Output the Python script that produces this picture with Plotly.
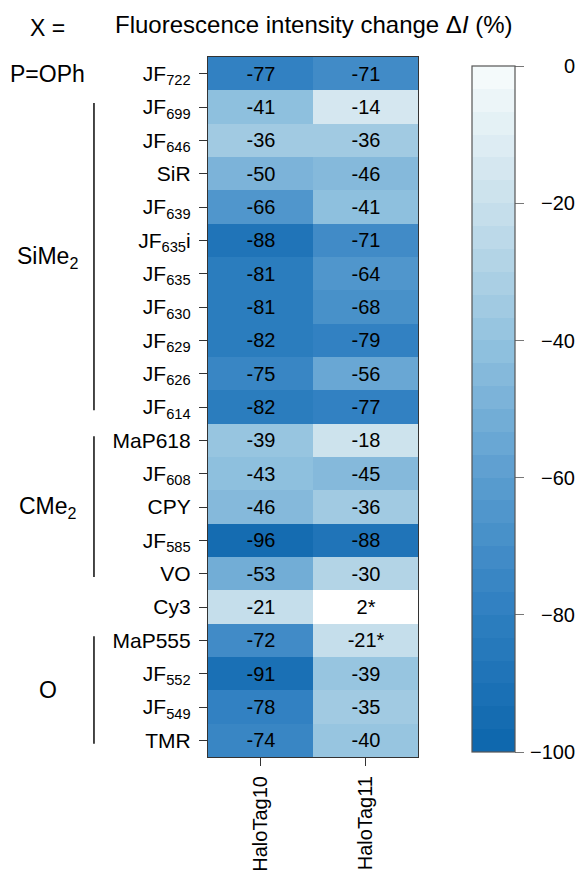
import plotly.graph_objects as go

# Dye names (rows, top to bottom) and HaloTag variants (columns)
dyes = ["JF<sub>722</sub>", "JF<sub>699</sub>", "JF<sub>646</sub>", "SiR", "JF<sub>639</sub>",
        "JF<sub>635</sub>i", "JF<sub>635</sub>", "JF<sub>630</sub>", "JF<sub>629</sub>", "JF<sub>626</sub>",
        "JF<sub>614</sub>", "MaP618", "JF<sub>608</sub>", "CPY", "JF<sub>585</sub>", "VO", "Cy3",
        "MaP555", "JF<sub>552</sub>", "JF<sub>549</sub>", "TMR"]
variants = ["HaloTag10", "HaloTag11"]

# Fluorescence intensity change (%) per dye
halotag10 = [-77, -41, -36, -50, -66, -88, -81, -81, -82, -75, -82,
             -39, -43, -46, -96, -53, -21, -72, -91, -78, -74]
halotag11 = [-71, -14, -36, -46, -41, -71, -64, -68, -79, -56, -77,
             -18, -45, -36, -88, -30, 2, -21, -39, -35, -40]

# Values flagged with an asterisk
flagged11 = {"Cy3", "MaP555"}

# Colour scale range and colourbar ticks
zmin, zmax = -100, 0
cbar_ticks = [0, -20, -40, -60, -80, -100]

# Xanthene bridge groups: label, first row, last row
groups = [("SiMe<sub>2</sub>", 1, 10),
          ("CMe<sub>2</sub>", 11, 15),
          ("O", 17, 20)]

z = [[a, b] for a, b in zip(halotag10, halotag11)]
text = []
for name, a, b in zip(dyes, halotag10, halotag11):
    tb = f"{b}*" if name in flagged11 else f"{b}"
    text.append([f"{a}", tb])

# Cells above the top of the scale are shown in white
z_over = [[v if v > zmax else None for v in row] for row in z]
text_over = [[t if v > zmax else "" for v, t in zip(zr, tr)] for zr, tr in zip(z, text)]

# Stepped blue palette (30 bins from -100 to 0)
anchors = [(0.0, (15, 104, 174)), (0.2, (48, 128, 193)), (0.4, (92, 158, 208)),
           (0.6, (146, 194, 223)), (0.8, (199, 223, 235)), (1.0, (244, 250, 251))]


def interp(t):
    for (t0, c0), (t1, c1) in zip(anchors[:-1], anchors[1:]):
        if t0 <= t <= t1:
            f = (t - t0) / (t1 - t0)
            return tuple(round(c0[i] + f * (c1[i] - c0[i])) for i in range(3))
    return anchors[-1][1]


nbins = 30
colorscale = []
for k in range(nbins):
    c = interp(k / (nbins - 1))
    col = f"rgb({c[0]},{c[1]},{c[2]})"
    colorscale.append([k / nbins, col])
    colorscale.append([(k + 1) / nbins, col])

font_family = "Liberation Sans, Arial, sans-serif"
cell_font = dict(size=20, color="black", family=font_family)

# Colourbar placement (paper coordinates)
cb_y0, cb_len = 0.007, 0.98

fig = go.Figure()
fig.add_trace(go.Heatmap(
    z=z, x=variants, y=dyes, text=text, texttemplate="%{text}", textfont=cell_font,
    zmin=zmin, zmax=zmax, colorscale=colorscale, hoverinfo="skip",
    colorbar=dict(
        x=1.257, xanchor="left", xpad=0, y=cb_y0, yanchor="bottom", ypad=0,
        len=cb_len, lenmode="fraction", thickness=43,
        outlinecolor="#555", outlinewidth=1.2,
        tickvals=cbar_ticks, ticks="outside", ticklen=9, tickcolor="#777",
        showticklabels=False,
    ),
))
fig.add_trace(go.Heatmap(
    z=z_over, x=variants, y=dyes, text=text_over, texttemplate="%{text}", textfont=cell_font,
    colorscale=[[0, "white"], [1, "white"]], showscale=False, hoverinfo="skip",
))

fig.update_yaxes(autorange="reversed", ticks="outside", ticklen=8, tickcolor="#333",
                 tickfont=dict(size=21, color="black", family=font_family),
                 ticklabelstandoff=4, automargin=False,
                 showline=True, linecolor="#333", linewidth=1.2, mirror=True)
fig.update_xaxes(ticks="outside", ticklen=8, tickcolor="#333", tickangle=-90,
                 tickfont=dict(size=20, color="black", family=font_family),
                 ticklabelstandoff=2, automargin=False,
                 showline=True, linecolor="#333", linewidth=1.2, mirror=True)

group_font = dict(size=23, color="black", family=font_family)
annotations = [
    dict(text="Fluorescence intensity change \u0394<i>I</i> (%)", xref="paper", yref="paper",
         x=0.505, y=1.046, xanchor="center", yanchor="middle", showarrow=False,
         font=dict(size=24, color="black", family=font_family)),
    dict(text="X =", xref="paper", yref="paper", x=-0.765, y=1.042, xanchor="center",
         yanchor="middle", showarrow=False, font=group_font),
    dict(text="P=OPh", xref="paper", yref="y", x=-0.762, y=0, xanchor="center",
         yanchor="middle", showarrow=False, font=group_font),
]
# Colourbar tick labels, right-aligned
for v in cbar_ticks:
    lab = "0" if v == 0 else f"\u2212{abs(v)}"
    annotations.append(dict(text=lab, xref="paper", yref="paper", x=1.755,
                            y=cb_y0 + (v - zmin) / (zmax - zmin) * cb_len,
                            xanchor="right", yanchor="middle", showarrow=False,
                            font=dict(size=20, color="black", family=font_family)))

shapes = []
for label, first, last in groups:
    annotations.append(dict(text=label, xref="paper", yref="y", x=-0.762, y=(first + last) / 2,
                            xanchor="center", yanchor="middle", showarrow=False, font=group_font))
    shapes.append(dict(type="line", xref="paper", yref="y", x0=-0.543, x1=-0.543,
                       y0=first - 0.12, y1=last + 0.1,
                       line=dict(color="#333", width=1.8)))

fig.update_layout(
    width=582, height=873,
    margin=dict(l=208, r=164, t=57, b=116),
    paper_bgcolor="white", plot_bgcolor="white",
    annotations=annotations, shapes=shapes,
    font=dict(family=font_family, color="black"),
)

fig.write_html("out.html")
